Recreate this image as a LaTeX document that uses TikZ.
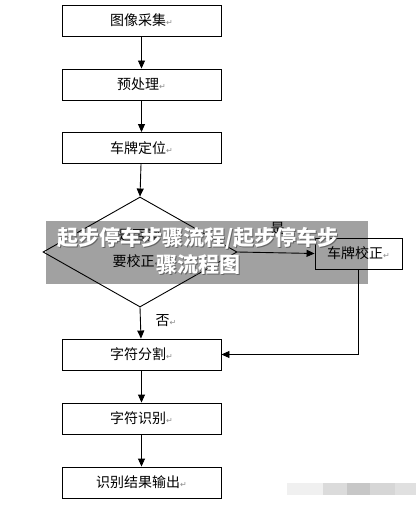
\documentclass[tikz,border=0pt]{standalone}
\usepackage{fontspec}
\newfontfamily\cjk{Noto Sans CJK SC}
\newfontfamily\djv{DejaVu Sans}
\usetikzlibrary{arrows.meta,shapes.geometric}
\newcommand\pmk{{\color{black!45}\djv\fontsize{8}{8}\selectfont ↵}}
\tikzset{
  box/.style={draw, line width=0.9pt, minimum width=159pt, minimum height=31pt, inner sep=0pt,
    font=\cjk\fontsize{14}{16}\selectfont},
  arr/.style={-{Triangle[width=7pt,length=8pt]}, line width=0.9pt},
  lbl/.style={inner sep=0pt, font=\cjk\fontsize{14}{16}\selectfont},
}
\begin{document}
\begin{tikzpicture}[x=1pt,y=-1pt]
\fill[white] (0,0) rectangle (416,505);
\useasboundingbox (0,0) rectangle (416,505);
\node[box] (b1) at (141.5,20.5) {图像采集\pmk};
\node[box] (b2) at (141.5,84.5) {预处理\pmk};
\node[box] (b3) at (141.5,148) {车牌定位\pmk};
\node[diamond, draw, line width=0.9pt, minimum width=194pt, minimum height=110pt, inner sep=0pt] (d) at (140,252) {};
\node[lbl] (t1) at (139,235) {是否需};
\node[lbl] (t2) at (137,261) {要校正\pmk};
\node[box, minimum width=87pt] (c) at (358.5,253.5) {车牌校正\pmk};
\node[box] (b4) at (141.5,354.5) {字符分割\pmk};
\node[box] (b5) at (141.5,418.5) {字符识别\pmk};
\node[box] (b6) at (141.5,482.5) {识别结果输出\pmk};
\node[lbl] (yes) at (281,228) {是\pmk};
\node[lbl] (no) at (166,321) {否\pmk};
\draw[arr] (b1) -- (b2);
\draw[arr] (b2) -- (b3);
\draw[arr] (b3) -- (d.north);
\draw[arr] (d.south) -- (b4);
\draw[arr] (d.east) -- (c.west);
\draw[arr] (c.south) |- (b4.east);
\draw[arr] (b4) -- (b5);
\draw[arr] (b5) -- (b6);
% watermark banner
\fill[black, fill opacity=0.37] (46,221) rectangle (368,284);
\node[text=black!60, align=center, inner sep=0pt, font=\cjk\bfseries\fontsize{21}{27}\selectfont] (wms) at (199,251.5) {起步停车步骤流程/起步停车步\\骤流程图};
\node[text=white, align=center, inner sep=0pt, font=\cjk\bfseries\fontsize{21}{27}\selectfont] (wm) at (198,250.5) {起步停车步骤流程/起步停车步\\骤流程图};
% blurred residue bottom right
\fill[black!6] (287,483) rectangle (323,495);
\fill[black!14] (323,483) rectangle (347,495);
\fill[black!22] (347,483) rectangle (370,495);
\fill[black!16] (370,483) rectangle (395,495);
\fill[black!12] (395,483) rectangle (416,495);
\end{tikzpicture}
\end{document}
